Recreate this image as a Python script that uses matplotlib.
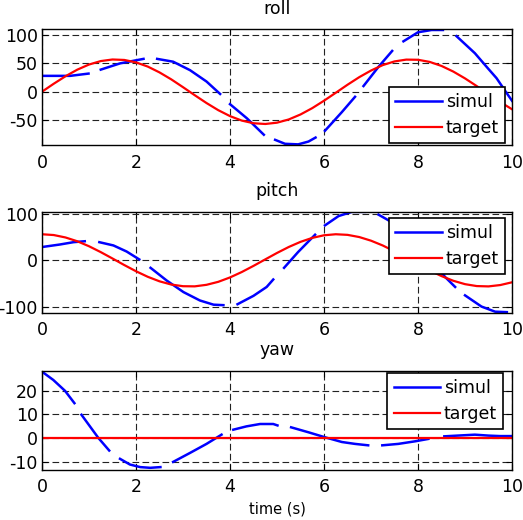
import numpy as np
import matplotlib.pyplot as plt

nan = np.nan

# target curves, every 0.25 s
t_target = [0, 0.25, 0.5, 0.75, 1.0, 1.25, 1.5, 1.75, 2.0, 2.25, 2.5, 2.75, 3.0,
            3.25, 3.5, 3.75, 4.0, 4.25, 4.5, 4.75, 5.0, 5.25, 5.5, 5.75, 6.0, 6.25,
            6.5, 6.75, 7.0, 7.25, 7.5, 7.75, 8.0, 8.25, 8.5, 8.75, 9.0, 9.25, 9.5,
            9.75, 10.0]
roll_target = [0, 14.1, 27.3, 38.9, 48.0, 54.1, 56.9, 56.1, 51.8, 44.4, 34.1, 21.8,
               8.0, -6.2, -20.0, -32.6, -43.1, -51.0, -55.7, -57.0, -54.7, -49.0,
               -40.2, -29.0, -15.9, -1.9, 12.3, 25.7, 37.4, 47.0, 53.5, 56.7, 56.4,
               52.6, 45.5, 35.6, 23.5, 9.9, -4.3, -18.2, -31.0]
pitch_target = [56.0, 54.3, 49.1, 41.0, 30.3, 17.7, 4.0, -10.0, -23.3, -35.2, -44.9,
                -51.8, -55.4, -55.7, -52.4, -46.0, -36.6, -25.0, -11.8, 2.1, 15.9,
                28.7, 39.7, 48.2, 53.8, 56.0, 54.7, 50.0, 42.2, 31.9, 19.4, 5.8, -8.1,
                -21.7, -33.7, -43.7, -51.0, -55.1, -55.8, -52.9, -47.0]
t_yaw_target = [0, 10]
yaw_target = [0, 0]

# simulated curves (the line has gaps, nan breaks it)
roll_sim_t = [0, 0.6, 0.99, nan, 1.25, 1.66, 2.16, nan, 2.45, 2.79, 3.15, 3.5, 3.79, nan,
              4.0, 4.36, 4.72, nan, 4.96, 5.17, 5.45, 5.67, 5.82, nan, 6.02, 6.38, 6.66,
              nan, 6.84, 7.16, 7.45, nan, 7.69, 8.0, 8.29, 8.53, nan, 8.82, 9.21, 9.49,
              9.67, 9.85, 10.0]
roll_sim = [28, 28, 32, nan, 39, 50, 58, nan, 58, 53, 38, 18, -4, nan,
            -22, -47, -76, nan, -85, -92, -93, -88, -81, nan, -69, -36, -9,
            nan, 10, 44, 72, nan, 89, 105, 109, 109, nan, 98, 68, 41,
            24, 2, -16]

pitch_sim_t = [0, 0.38, 0.67, 0.91, nan, 1.22, 1.52, 1.8, 2.07, nan, 2.31, 2.65, 3.01,
               3.36, 3.65, 3.86, nan, 4.16, 4.5, 4.78, 4.92, nan, 5.15, 5.45, 5.81, nan,
               6.02, 6.31, 6.59, 6.87, nan, 7.16, 7.37, 7.7, 8.0, 8.3, 8.58, 8.79, nan,
               9.0, 9.35, 9.64, 9.89]
pitch_sim = [28.6, 34, 39, 41, nan, 39, 32, 19, 2, nan, -16, -43, -68,
             -86, -95, -96, nan, -94, -76, -57, -41, nan, -16, 18, 55, nan,
             75, 95, 104, 104, nan, 98, 86, 60, 30, -3, -36, -57, nan,
             -75, -99, -110, -111]

yaw_sim_t = [0, 0.24, 0.49, 0.69, nan, 0.84, 1.2, 1.43, nan, 1.66, 1.87, 2.09, 2.3, 2.52,
             nan, 2.79, 3.15, 3.5, 3.82, nan, 4.07, 4.35, 4.64, 4.92, 5.01, nan, 5.3,
             5.67, 6.02, 6.38, 6.66, 6.94, nan, 7.24, 7.58, 7.94, 8.22, nan, 8.56, 8.93,
             9.21, 9.5, 9.75, 10.0]
yaw_sim = [28, 24.5, 19.9, 14.7, nan, 9.8, 0, -5.3, nan, -8.8, -11.2, -12.3, -12.6, -12.3,
           nan, -10.1, -6.3, -2.5, 1.4, nan, 3.5, 4.9, 5.9, 5.9, 5.3, nan, 4.5,
           2.4, 0.3, -1.7, -2.5, -3.1, nan, -3.1, -2.5, -1.4, -0.4, nan, 0.7, 1.1,
           1.4, 1.0, 0.8, 0.8]

plt.rcParams['axes.unicode_minus'] = False
plt.rcParams['font.size'] = 12.5

fig = plt.figure(figsize=(5.23, 5.2), dpi=100)

panels = [
    ('roll', [0.0803, 0.7202, 0.8987, 0.2231], roll_sim_t, roll_sim, t_target, roll_target,
     (-95, 109.9), [-50, 0, 50, 100], 'lower right', (0.985, 0.022), 11),
    ('pitch', [0.0803, 0.3990, 0.8987, 0.1942], pitch_sim_t, pitch_sim, t_target, pitch_target,
     (-111.8, 104.7), [-100, 0, 100], 'upper right', (0.985, 0.934), 11),
    ('yaw', [0.0803, 0.0967, 0.8987, 0.1904], yaw_sim_t, yaw_sim, t_yaw_target, yaw_target,
     (-13.4, 28.4), [-10, 0, 10, 20], 'upper right', (0.981, 0.977), 11),
]

for name, pos, ts, s, tt, tg, ylim, yticks, loc, anchor, tpad in panels:
    ax = fig.add_axes(pos)
    ax.plot(ts, s, color='#0000ff', lw=1.8, label='simul')
    ax.plot(tt, tg, color='#ff0000', lw=1.6, label='target')
    ax.set_xlim(0, 10)
    ax.set_ylim(*ylim)
    ax.set_xticks(range(0, 11, 2))
    ax.set_yticks(yticks)
    ax.grid(True, color='#222222', linestyle=(0, (6, 3)), lw=0.8)
    ax.tick_params(direction='in', length=4, width=0.8, top=True, right=True,
                   labelsize=12.5)
    ax.tick_params(axis='x', pad=6)
    ax.tick_params(axis='y', pad=3)
    for sp in ax.spines.values():
        sp.set_linewidth(1.0)
    ax.set_title(name, fontsize=12.5, pad=tpad)
    leg = ax.legend(loc=loc, bbox_to_anchor=anchor, borderaxespad=0, fancybox=False,
                    framealpha=1, edgecolor='k', fontsize=12.5, handlelength=2.7,
                    handletextpad=0.2, borderpad=0.35, labelspacing=0.45)
    leg.get_frame().set_linewidth(1.2)
    if name == 'yaw':
        ax.set_xlabel('time (s)', fontsize=10.5, labelpad=4)

fig.savefig('out.png', dpi=100)
